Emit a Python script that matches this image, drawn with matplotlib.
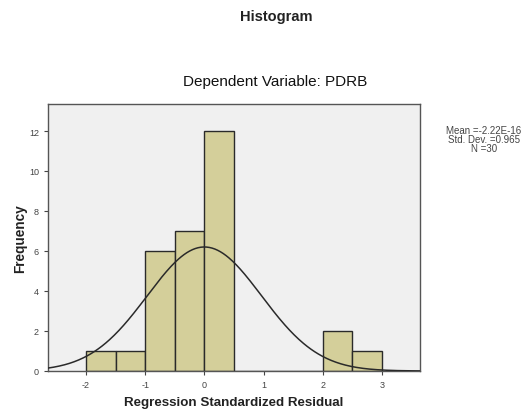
import numpy as np
import matplotlib.pyplot as plt

plt.rcParams['font.family'] = ['Liberation Sans', 'DejaVu Sans']
plt.rcParams['axes.unicode_minus'] = False

# histogram of standardized residuals (SPSS style)
bin_edges = [-2.0, -1.5, -1.0, -0.5, 0.0, 0.5, 1.0, 1.5, 2.0, 2.5, 3.0]
counts = [1, 1, 6, 7, 12, 0, 0, 0, 2, 1]
mean = -2.22e-16
std_dev = 0.965
n = 30
x_ticks = [-2, -1, 0, 1, 2, 3]
y_ticks = [0, 2, 4, 6, 8, 10, 12]

fig = plt.figure(figsize=(5.26, 4.14), dpi=100)
ax = fig.add_axes([48 / 526, 1 - 372 / 414, (420 - 48) / 526, (372 - 105) / 414])
ax.set_facecolor('#f0f0f0')

widths = np.diff(bin_edges)
ax.bar(bin_edges[:-1], counts, width=widths, align='edge',
       color='#d4cf9a', edgecolor='#2a2a2a', linewidth=1.0, zorder=2)

bw = widths[0]
xs = np.linspace(-2.64, 3.64, 400)
ys = n * bw / (std_dev * np.sqrt(2 * np.pi)) * np.exp(-0.5 * ((xs - mean) / std_dev) ** 2)
ax.plot(xs, ys, color='#2a2a2a', linewidth=1.1, zorder=3)

ax.set_xlim(-2.64, 3.64)
ax.set_ylim(0, 13.35)
ax.set_xticks(x_ticks)
ax.set_yticks(y_ticks)
ax.tick_params(labelsize=6.5, colors='#444444', length=3, width=0.8)
for s in ax.spines.values():
    s.set_color('#555555')
    s.set_linewidth(1.0)

ax.set_xlabel('Regression Standardized Residual', fontsize=9.6, fontweight='bold',
              labelpad=5, color='#222222')
ax.set_ylabel('Frequency', fontsize=9.8, fontweight='bold', labelpad=1, color='#222222')

fig.text(276 / 526, 1 - 17 / 414, 'Histogram', ha='center', va='center',
         fontsize=10.5, fontweight='bold', color='#222222')
fig.text(275 / 526, 1 - 82 / 414, 'Dependent Variable: PDRB', ha='center', va='center',
         fontsize=11, color='#111111')
fig.text(484 / 526, 1 - 140 / 414,
         'Mean =-2.22E-16\nStd. Dev. =0.965\nN =30',
         ha='center', va='center', fontsize=7,
         color='#444444', linespacing=0.85)

fig.savefig('out.png', dpi=100)
